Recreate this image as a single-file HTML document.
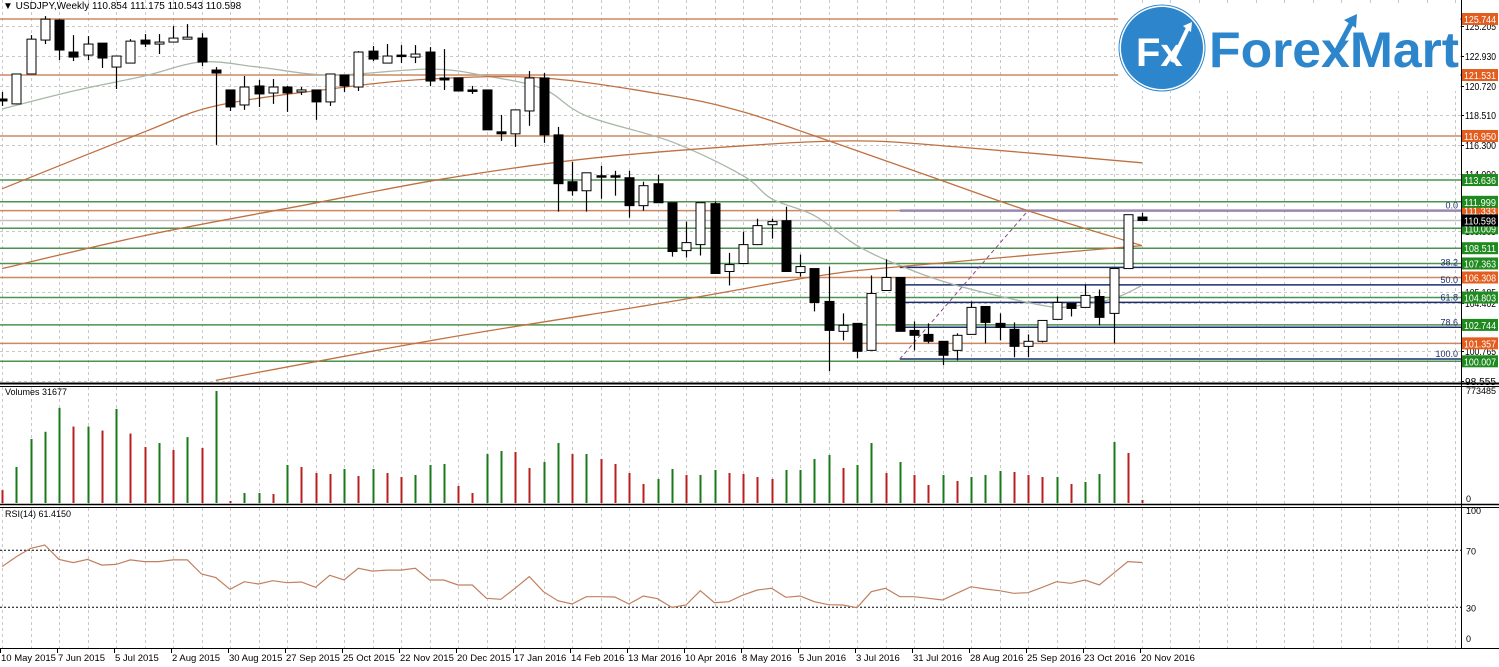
<!DOCTYPE html>
<html><head><meta charset="utf-8"><style>
html,body{margin:0;padding:0;background:#fff;}
svg{display:block;font-family:"Liberation Sans",sans-serif;}
</style></head><body>
<svg id="chart" width="1499" height="667" viewBox="0 0 1499 667" xmlns="http://www.w3.org/2000/svg">
<rect x="0" y="0" width="1499" height="667" fill="#fff"/>
<g id="grid"></g>
<g id="levels"></g>
<g id="mas"></g>
<g id="candles"></g>
<g id="vol"></g>
<g id="rsi"></g>
<g id="frame"></g>
<g id="logo">
  <rect x="1118" y="3" width="342" height="88" fill="#fff"/>
  <circle cx="1162" cy="48" r="42" fill="#2d86cc" stroke="#fff" stroke-width="2"/>
  <circle cx="1162" cy="48" r="43" fill="none" stroke="#2d86cc" stroke-width="1"/>
  <text x="1136" y="66" font-size="40" font-weight="bold" fill="#fff">Fx</text>
  <path d="M1172 62 L1188 28" stroke="#fff" stroke-width="4" fill="none"/>
  <path d="M1183 26 L1192 22 L1191 32 Z" fill="#fff"/>
  <text x="1209" y="67" font-size="50" font-weight="bold" fill="#2d86cc" textLength="250" lengthAdjust="spacingAndGlyphs">ForexMart</text>
  <path d="M1337 50 L1352 22" stroke="#2d86cc" stroke-width="5"/>
  <path d="M1344 20 L1357 14 L1356 28 Z" fill="#2d86cc"/>
</g>
<text x="3" y="9" font-size="10" fill="#000">▼ USDJPY,Weekly  110.854 111.175 110.543 110.598</text>
<text x="5" y="395" font-size="9" fill="#000">Volumes 31677</text>
<text x="5" y="517" font-size="9" fill="#000">RSI(14) 61.4150</text>
</svg>
<script>
const dateLabels=["10 May 2015","7 Jun 2015","5 Jul 2015","2 Aug 2015","30 Aug 2015","27 Sep 2015","25 Oct 2015","22 Nov 2015","20 Dec 2015","17 Jan 2016","14 Feb 2016","13 Mar 2016","10 Apr 2016","8 May 2016","5 Jun 2016","3 Jul 2016","31 Jul 2016","28 Aug 2016","25 Sep 2016","23 Oct 2016","20 Nov 2016"];
const opens=[119.73,119.36,121.61,124.16,125.66,123.26,123.03,123.93,122.13,122.43,124.16,123.86,124.01,124.23,124.31,121.91,120.41,119.28,120.71,120.18,120.63,120.26,120.41,119.51,121.53,120.63,123.33,122.43,123.03,122.88,123.26,121.31,121.31,120.41,120.41,117.26,117.11,118.83,121.31,117.03,113.51,112.83,113.96,113.96,113.81,111.71,113.36,111.93,108.33,108.78,111.86,106.76,107.36,108.78,110.28,110.58,106.68,106.98,104.51,102.26,102.86,100.83,105.33,106.31,102.33,102.03,101.51,100.83,102.03,104.13,102.86,102.41,101.13,101.51,103.16,104.36,104.06,104.88,103.61,106.98,110.854];
const highs=[120.26,121.61,124.53,125.96,125.73,124.53,124.46,123.93,122.96,124.23,124.61,124.61,125.21,125.36,124.68,122.13,120.41,121.46,121.16,121.23,120.71,120.63,120.41,121.61,121.53,123.33,123.71,123.86,123.78,123.78,123.63,123.48,121.31,120.71,120.41,118.53,118.91,121.83,121.68,117.63,115.01,114.18,114.71,114.33,114.33,113.51,114.03,111.93,110.51,111.93,112.01,108.16,109.76,110.73,110.73,111.63,108.03,106.98,107.13,103.61,102.86,106.46,107.66,106.31,103.01,102.86,101.51,102.11,104.51,104.13,103.61,102.93,102.03,103.08,104.88,104.36,105.78,105.40,106.98,111.03,111.175];
const lows=[119.21,119.36,121.61,123.86,122.66,122.58,122.66,122.06,120.48,122.43,123.63,123.11,124.01,124.23,122.21,116.28,118.83,118.91,119.13,119.36,118.76,120.03,118.16,119.21,120.26,120.33,122.58,122.43,122.43,122.43,120.71,120.41,120.33,120.11,117.41,116.58,116.13,117.71,116.43,111.26,112.46,111.26,112.23,112.46,110.81,111.33,111.93,107.88,107.81,107.96,106.61,105.71,107.36,108.78,109.23,106.76,106.38,103.76,99.26,101.58,100.23,100.83,105.33,102.26,100.83,101.36,99.71,100.08,102.03,101.36,101.58,100.31,100.31,101.43,103.16,103.38,104.06,102.71,101.36,106.98,110.543];
const closes=[119.58,121.61,124.23,125.73,123.41,122.88,123.86,122.81,122.96,124.08,123.86,124.01,124.31,124.38,122.51,121.68,119.13,120.63,120.11,120.63,120.18,120.41,119.51,121.61,120.71,123.26,122.73,122.96,122.96,123.11,121.08,121.16,120.33,120.33,117.41,117.11,118.91,121.31,117.03,113.36,112.83,114.18,113.88,113.92,111.71,113.21,111.93,108.26,108.93,111.93,106.61,107.28,108.78,110.21,110.51,106.76,107.13,104.43,102.33,102.71,100.76,105.11,106.31,102.26,101.96,101.51,100.46,101.96,104.06,102.93,102.56,101.13,101.51,103.08,104.43,103.98,104.96,103.31,106.98,111.03,110.598];
const volumes=[89000,248600,442200,491900,656700,528000,528000,500400,649800,479700,386500,414200,365800,455200,379600,773500,13800,69100,69100,62200,262500,248600,207200,200300,234800,186500,234800,207200,179600,193400,262500,269400,117400,69100,338500,359300,352400,241900,283300,414200,338500,338500,303900,269400,207200,131200,165700,234800,193400,193400,228000,207200,200300,179600,165700,228000,228000,303900,331500,241900,262500,414200,207200,283300,193400,124300,193400,151900,179600,193400,221000,214100,193400,179600,179600,131200,145000,200300,421100,345500,20700];
const rsiValues=[58.5,65.5,71.3,73.7,63.6,61.3,63.6,59.6,60.1,63.2,62.0,62.0,63.2,63.2,53.3,50.8,42.6,47.9,46.3,48.6,47.2,47.7,44.0,52.4,49.1,57.3,55.4,56.1,56.1,57.3,49.1,49.1,45.6,45.6,36.3,35.6,43.3,51.5,40.9,34.6,32.3,37.4,37.4,37.2,32.3,37.9,36.0,29.9,31.6,41.6,33.2,33.9,38.6,42.1,43.3,37.0,37.9,33.9,31.8,31.6,29.7,40.9,43.3,37.4,37.4,36.3,35.1,39.8,44.4,42.8,41.6,39.8,40.2,44.0,47.9,46.8,49.1,45.6,53.8,62.0,61.4];
const maGrayIdx=[0,5,10,14,18,23,30,34,38,41,47,52,54,57,60,63,67,73,75,78,80];
const maGrayVal=[118.98,120.33,121.46,122.51,122.13,121.53,121.98,121.46,120.48,118.46,116.51,113.96,112.23,110.96,108.71,107.21,105.71,104.21,104.13,104.73,105.71];
const maFastIdx=[0,10,15,23,30,38,47,52,57,65,72,80];
const maFastVal=[112.98,117.26,119.21,120.48,121.23,121.31,119.96,118.76,116.96,113.96,111.33,108.71];
const maSlowIdx=[0,10,21,31,41,52,60,67,80];
const maSlowVal=[106.98,109.46,111.71,113.73,115.23,116.21,116.58,116.13,114.93];
const maLongIdx=[15,31,47,57,63,80];
const maLongVal=[98.58,101.73,104.51,106.38,107.13,108.71];
const orangeLevels=[125.744,121.531,116.950,111.333,106.308,101.357];
const greenLevels=[113.636,111.999,110.009,108.511,107.363,104.803,102.744,100.007];
const fibRatios=[0.0,38.2,50.0,61.8,78.6,100.0];
const fibHigh=111.333, fibLow=100.18, fibStartIdx=63, fibEndIdx=72;
const lastPrice=110.598;
const priceTicks=["125.205","122.930","120.720","118.510","116.300","114.090","109.805","105.185","104.402","100.765","98.555"];
const volTicks=["773485","0"];
const rsiTicks=[100,70,30,0];

const NS="http://www.w3.org/2000/svg";
function mk(tag,attrs,parent){const e=document.createElementNS(NS,tag);for(const k in attrs)e.setAttribute(k,attrs[k]);parent.appendChild(e);return e;}
const xOf=i=>2+14.25*i;
const yP=p=>19+(125.744-p)*13.3;
const VMAX=773485, yV=v=>503-v/VMAX*112;
const yR=v=>650-v*1.425;
const AX=1461;

const grid=document.getElementById('grid');
for(let i=0;i<=80;i+=2){
  const x=Math.round(xOf(i))+0.5;
  [[0,383],[387,504],[508,648]].forEach(r=>{
    const l=mk('line',{x1:x,x2:x,y1:r[0],y2:r[1],stroke:'#c8c8c8','stroke-dasharray':'3,3'},grid);
    
    
  });
}
for(let x=1170;x<AX;x+=28.5){
  [[0,383],[387,504],[508,648]].forEach(r=>{
    const l=mk('line',{x1:Math.round(x)+0.5,x2:Math.round(x)+0.5,y1:r[0],y2:r[1],stroke:'#c8c8c8','stroke-dasharray':'3,3'},grid);
    
    
  });
}
priceTicks.forEach(t=>{
  const y=Math.round(yP(parseFloat(t)))+0.5;
  const l=mk('line',{x1:0,x2:AX,y1:y,y2:y,stroke:'#c8c8c8','stroke-dasharray':'3,3'},grid);
  
  
  const tx=mk('text',{x:1465,y:y+3.5,'font-size':10,fill:'#000',textLength:31,lengthAdjust:'spacingAndGlyphs'},grid);
  tx.textContent=t;
  
  
  mk('line',{x1:AX,x2:AX+3,y1:y,y2:y,stroke:'#000'},grid);
});

const lv=document.getElementById('levels');
const cur=mk('line',{x1:0,x2:AX,y1:yP(lastPrice),y2:yP(lastPrice),stroke:'#c0c0c0','stroke-width':1.5},lv);


greenLevels.forEach(p=>{
  const l=mk('line',{x1:0,x2:AX,y1:yP(p),y2:yP(p),stroke:'#4e9250','stroke-width':1.5},lv);
  
  
});
orangeLevels.forEach(p=>{
  const l=mk('line',{x1:0,x2:AX,y1:yP(p),y2:yP(p),stroke:'#cc8860','stroke-width':1.5},lv);
  
  
});
fibRatios.forEach(r=>{
  const p=fibHigh-(fibHigh-fibLow)*r/100;
  const y=yP(p);
  const l=mk('line',{x1:xOf(fibStartIdx),x2:AX,y1:y,y2:y,stroke:r===0?'#9a88b0':'#1c2e6e','stroke-width':r===0?2.5:1.5},lv);
  
  
  const t=mk('text',{x:AX-3,y:y-2,'font-size':9,fill:'#1c2e6e','text-anchor':'end'},lv);
  t.textContent=r.toFixed(1);
  
  
});
const fl=mk('line',{x1:xOf(fibStartIdx),y1:yP(fibLow),x2:xOf(fibEndIdx),y2:yP(fibHigh),stroke:'#8a4a8a','stroke-dasharray':'4,3'},lv);



const mg=document.getElementById('mas');
function maLine(idx,val,color,name){
  const P=idx.map((i,k)=>[xOf(i),yP(val[k])]);
  let d='M'+P[0][0].toFixed(1)+','+P[0][1].toFixed(1);
  for(let k=0;k<P.length-1;k++){
    const p0=P[Math.max(k-1,0)],p1=P[k],p2=P[k+1],p3=P[Math.min(k+2,P.length-1)];
    const c1=[p1[0]+(p2[0]-p0[0])/6,p1[1]+(p2[1]-p0[1])/6];
    const c2=[p2[0]-(p3[0]-p1[0])/6,p2[1]-(p3[1]-p1[1])/6];
    d+=' C'+c1[0].toFixed(1)+','+c1[1].toFixed(1)+' '+c2[0].toFixed(1)+','+c2[1].toFixed(1)+' '+p2[0].toFixed(1)+','+p2[1].toFixed(1);
  }
  const pl=mk('path',{d:d,fill:'none',stroke:color,'stroke-width':1.3},mg);
  
  
}
maLine(maGrayIdx,maGrayVal,'#a8b8a8','moving-average-fast');
maLine(maFastIdx,maFastVal,'#c07040','moving-average-medium');
maLine(maSlowIdx,maSlowVal,'#c07040','moving-average-slow');
maLine(maLongIdx,maLongVal,'#c07040','moving-average-long');

const cg=document.getElementById('candles');
opens.forEach((o,i)=>{
  const c=closes[i],x=Math.round(xOf(i))+0.5;
  const g=mk('g',{},cg);
  
  
  mk('line',{x1:x,x2:x,y1:yP(highs[i]),y2:yP(lows[i]),stroke:'#000','stroke-width':1.2},g);
  const top=yP(Math.max(o,c)),bot=yP(Math.min(o,c));
  const h=Math.max(bot-top,1.5);
  mk('rect',{x:x-4.5,y:top,width:9,height:h,fill:c>=o?'#fff':'#000',stroke:'#000','stroke-width':1},g);
});

const vg=document.getElementById('vol');
volumes.forEach((v,i)=>{
  const x=Math.round(xOf(i))-0.5;
  const up=i>0&&v>=volumes[i-1];
  const r=mk('rect',{x:x,y:yV(v),width:2,height:503-yV(v),fill:up?'#1a7a1a':'#b82020'},vg);
  
  
});
volTicks.forEach((t,k)=>{
  const tx=mk('text',{x:1466,y:k===0?394:502,'font-size':9,fill:'#000'},vg);
  tx.textContent=t;
  
  
});

const rg=document.getElementById('rsi');
[70,30].forEach(v=>{
  const l=mk('line',{x1:0,x2:AX,y1:yR(v),y2:yR(v),stroke:'#000','stroke-dasharray':'2,2'},rg);
  
  
});
const rp=mk('polyline',{points:rsiValues.map((v,i)=>xOf(i).toFixed(1)+','+yR(v).toFixed(1)).join(' '),fill:'none',stroke:'#c08060','stroke-width':1.2},rg);


rsiTicks.forEach(v=>{
  const y=v===100?513:v===0?641:yR(v)+3;
  const tx=mk('text',{x:1466,y:y+1,'font-size':9,fill:'#000'},rg);
  tx.textContent=String(v);
  
  
});

const fr=document.getElementById('frame');
[[383.5,2],[386.5,1],[504.5,1.5],[507.5,1],[648.5,1]].forEach(a=>{
  const l=mk('line',{x1:0,x2:1499,y1:a[0],y2:a[0],stroke:'#000','stroke-width':a[1]},fr);
  
  
});
const ax=mk('line',{x1:AX+0.5,x2:AX+0.5,y1:0,y2:649,stroke:'#000'},fr);


dateLabels.forEach((d,k)=>{
  const x=xOf(k*4)-2;
  mk('line',{x1:x+0.5,x2:x+0.5,y1:649,y2:653,stroke:'#000'},fr);
  const t=mk('text',{x:x+1,y:661,'font-size':9.5,fill:'#000'},fr);
  t.textContent=d;
  
  
});
function box(p,color,label){
  const y=yP(p);
  const r=mk('rect',{x:AX+1,y:y-6,width:36,height:12,fill:color},fr);
  
  
  const t=mk('text',{x:AX+3,y:y+4,'font-size':10,fill:'#fff',textLength:32,lengthAdjust:'spacingAndGlyphs'},fr);
  t.textContent=label;
  
  
}
orangeLevels.forEach(p=>box(p,'#e35d1e',p.toFixed(3)));
greenLevels.forEach(p=>box(p,'#1f8a1f',p.toFixed(3)));
box(lastPrice,'#000',lastPrice.toFixed(3));
</script>
</body></html>
